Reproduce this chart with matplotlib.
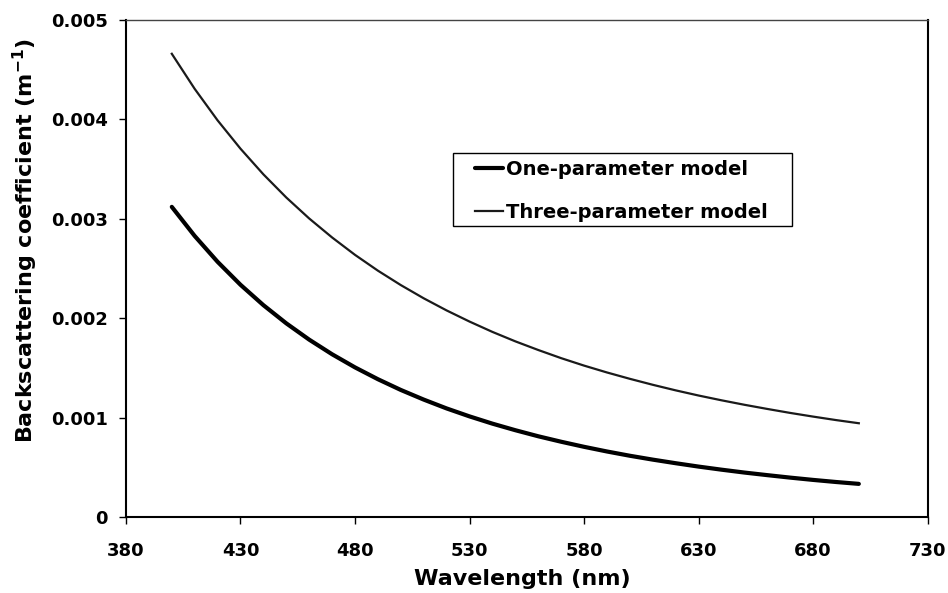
import matplotlib
matplotlib.use("Agg")
import matplotlib.pyplot as plt
from matplotlib.patches import Rectangle

# wavelength grid (nm) and backscattering values (m^-1)
wavelength = [400, 410, 420, 430, 440, 450, 460, 470, 480, 490, 500,
              510, 520, 530, 540, 550, 560, 570, 580, 590, 600,
              610, 620, 630, 640, 650, 660, 670, 680, 690, 700]

one_param = [0.003120, 0.002827, 0.002567, 0.002336, 0.002131, 0.001948,
             0.001784, 0.001637, 0.001505, 0.001386, 0.001278, 0.001181,
             0.001092, 0.001012, 0.000939, 0.000873, 0.000812, 0.000757,
             0.000706, 0.000659, 0.000616, 0.000577, 0.000541, 0.000507,
             0.000476, 0.000447, 0.000421, 0.000396, 0.000373, 0.000352,
             0.000333]

three_param = [0.004660, 0.004307, 0.003990, 0.003705, 0.003447, 0.003214,
               0.003003, 0.002812, 0.002637, 0.002478, 0.002333, 0.002200,
               0.002078, 0.001966, 0.001862, 0.001767, 0.001680, 0.001598,
               0.001523, 0.001454, 0.001390, 0.001330, 0.001274, 0.001222,
               0.001174, 0.001129, 0.001087, 0.001047, 0.001010, 0.000975,
               0.000943]

series_labels = ["One-parameter model", "Three-parameter model"]

x_ticks = [380, 430, 480, 530, 580, 630, 680, 730]
y_ticks = [0, 0.001, 0.002, 0.003, 0.004, 0.005]
y_tick_labels = ["0", "0.001", "0.002", "0.003", "0.004", "0.005"]

plt.rcParams['font.family'] = ['DejaVu Sans']
plt.rcParams['font.weight'] = 'bold'

fig = plt.figure(figsize=(9.48, 5.93), dpi=100)
ax = fig.add_axes([0.1329, 0.1282, 0.8455, 0.8381])

ax.plot(wavelength, one_param, color='black', lw=3.0,
        solid_capstyle='round', label=series_labels[0])
ax.plot(wavelength, three_param, color='#1a1a1a', lw=1.6,
        label=series_labels[1])

ax.set_xlim(380, 730)
ax.set_ylim(0, 0.005)
ax.set_xticks(x_ticks)
ax.set_yticks(y_ticks)
ax.set_yticklabels(y_tick_labels)

ax.tick_params(axis='both', direction='out', length=5, width=1,
               labelsize=13, top=False, right=False)
ax.tick_params(axis='y', pad=8)
ax.tick_params(axis='x', pad=13)
for lab in ax.get_xticklabels() + ax.get_yticklabels():
    lab.set_fontweight('bold')

for side in ['left', 'bottom', 'right']:
    ax.spines[side].set_linewidth(1.5)
ax.spines['top'].set_linewidth(1.0)
ax.spines['top'].set_color('#444444')

ax.set_xlabel("Wavelength (nm)", fontsize=16, fontweight='bold')
ax.xaxis.set_label_coords(0.495, -0.105)
ax.set_ylabel(r"Backscattering coefficient (m$^{\mathbf{-1}}$)",
              fontsize=16, fontweight='bold')
ax.yaxis.set_label_coords(-0.107, 0.557)

# legend entries without frame, box drawn separately to match the wide frame
leg = ax.legend(loc='upper left', bbox_to_anchor=(0.4354, 0.7189),
                borderaxespad=0, borderpad=0, frameon=False,
                handlelength=1.45, handletextpad=0.15, labelspacing=1.26,
                prop={'size': 14, 'weight': 'bold'})
ax.add_patch(Rectangle((0.4076, 0.5855), 0.423, 0.1463, transform=ax.transAxes,
                       fill=False, edgecolor='black', lw=1.0, zorder=5))

fig.savefig("out.png", dpi=100)
